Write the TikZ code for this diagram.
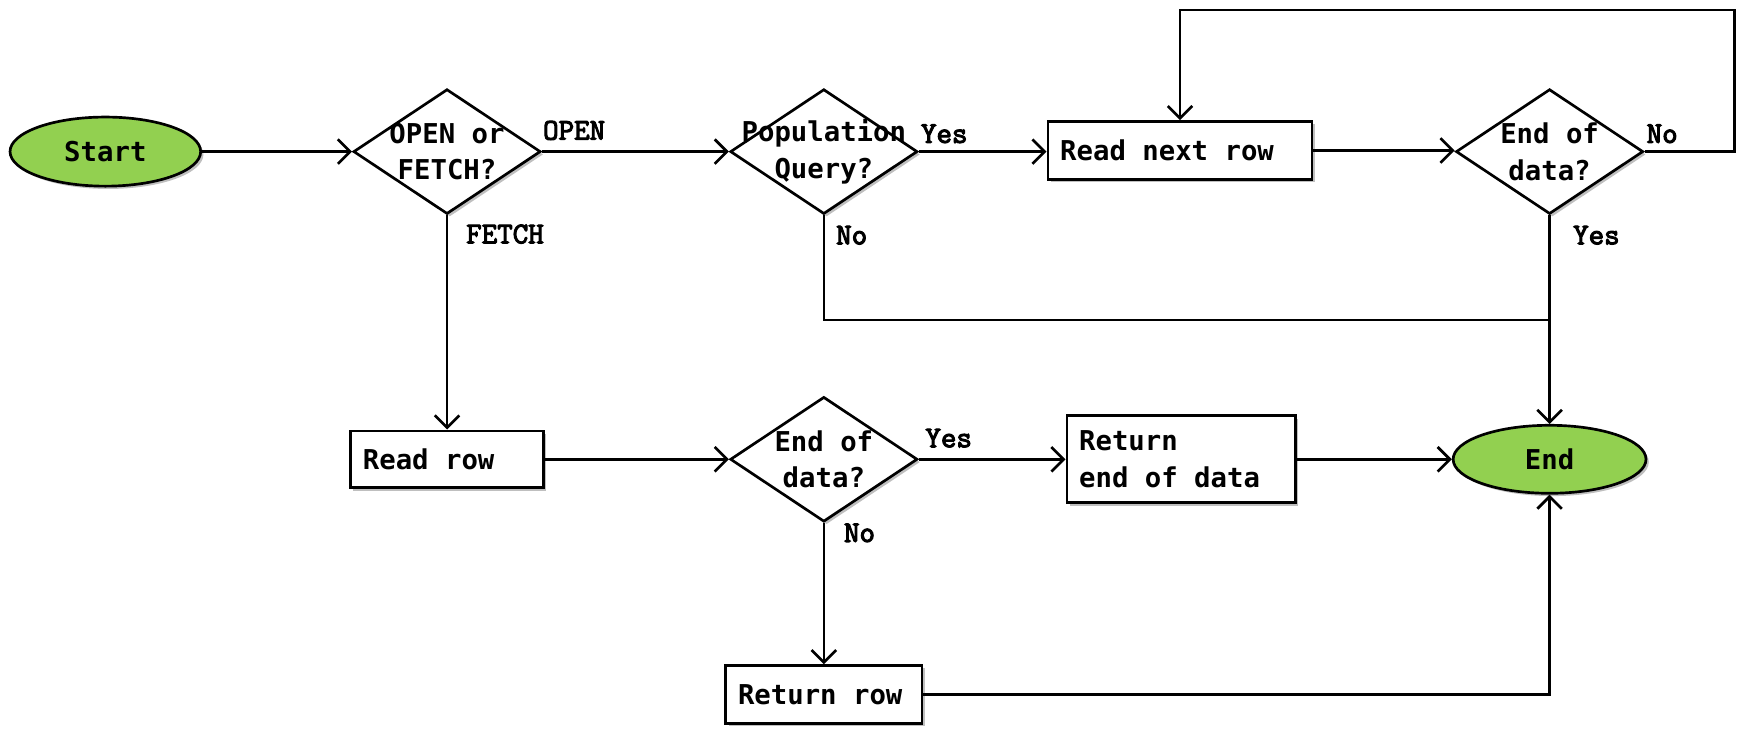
\documentclass[tikz,border=0pt]{standalone}
\usepackage{fontspec}
\newfontfamily\nodefont{DejaVu Sans Mono}
\newfontfamily\lblfont[FakeBold=3.5]{Latin Modern Mono}
\usetikzlibrary{shapes.geometric,arrows.meta,shadows}
\definecolor{termgreen}{HTML}{92D050}
\tikzset{
  shad/.style={drop shadow={shadow xshift=2.5pt,shadow yshift=-2.5pt,opacity=0.25,fill=black}},
  txt/.style={font=\nodefont\bfseries\fontsize{24.5}{33}\selectfont},
  term/.style={ellipse,draw,line width=2.4pt,fill=termgreen,shad,txt,inner sep=0pt},
  dec/.style={diamond,draw,line width=2.4pt,fill=white,shad,inner sep=0pt,minimum width=168pt,minimum height=112pt},
  dtext/.style={txt,align=center},
  procbox/.style={rectangle,draw,line width=2.4pt,fill=white,shad,txt,inner xsep=11pt,inner ysep=0pt,align=flush left},
  lbl/.style={font=\lblfont\fontsize{27}{32}\selectfont,inner sep=0pt},
  conn/.style={line width=2.4pt},
  arr/.style={conn,-{Straight Barb[length=11pt,width=22pt,line width=2.4pt]}},
}
\begin{document}
\begin{tikzpicture}[x=1pt,y=-1pt]
\useasboundingbox (0,0) rectangle (1568,660);
% nodes
\node[term,minimum width=171pt,minimum height=62pt] (start) at (94.5,136) {Start};
\node[dec,label={[dtext]center:{OPEN or\\FETCH?}}] (d1) at (401,136) {};
\node[dec,label={[dtext]center:{Population\\Query?}}] (d2) at (739,136) {};
\node[procbox,text width=215pt,minimum height=52pt] (rnr) at (1058.5,135) {Read next row};
\node[dec,label={[dtext]center:{End of\\data?}}] (d3) at (1390,136) {};
\node[procbox,text width=151pt,minimum height=51pt] (rr) at (401,412) {Read row};
\node[dec,label={[dtext]center:{End of\\data?}}] (d4) at (739,412) {};
\node[procbox,text width=183pt,minimum height=78pt] (red) at (1059.5,412) {Return\\end of data};
\node[term,minimum width=173pt,minimum height=61pt] (end) at (1390,412) {End};
\node[procbox,text width=154pt,minimum height=52pt] (ret) at (739,623) {Return row};
% labels
\node[lbl] (lopen) at (515,117) {OPEN};
\node[lbl] (lfetch) at (453,210) {FETCH};
\node[lbl] (lyes2) at (847,120) {Yes};
\node[lbl] (lno2) at (764,211) {No};
\node[lbl] (lno3) at (1491,120) {No};
\node[lbl] (lyes3) at (1432,211) {Yes};
\node[lbl] (lyes4) at (851,393) {Yes};
\node[lbl] (lno4) at (771,478) {No};
% coordinates
\coordinate (loopr) at (1556,9);
\coordinate (join) at (1390,287);
% connectors
\draw[arr] (start) -- (d1.west);
\draw[arr] (d1.east) -- (d2.west);
\draw[arr] (d2.east) -- (d2.east -| rnr.west);
\draw[arr] (rnr.east) -- (rnr.east -| d3.west);
\draw[arr] (d3.east) -| (loopr) -| (rnr.north);
\draw[conn] (d2.south) |- (join);
\draw[arr] (d3.south) -- (end.north);
\draw[arr] (d1.south) -- (rr.north);
\draw[arr] (rr.east) -- (d4.west);
\draw[arr] (d4.east) -- (red.west);
\draw[arr] (red.east) -- (end.west);
\draw[arr] (d4.south) -- (ret.north);
\draw[arr] (ret.east) -| (end.south);
\end{tikzpicture}
\end{document}
